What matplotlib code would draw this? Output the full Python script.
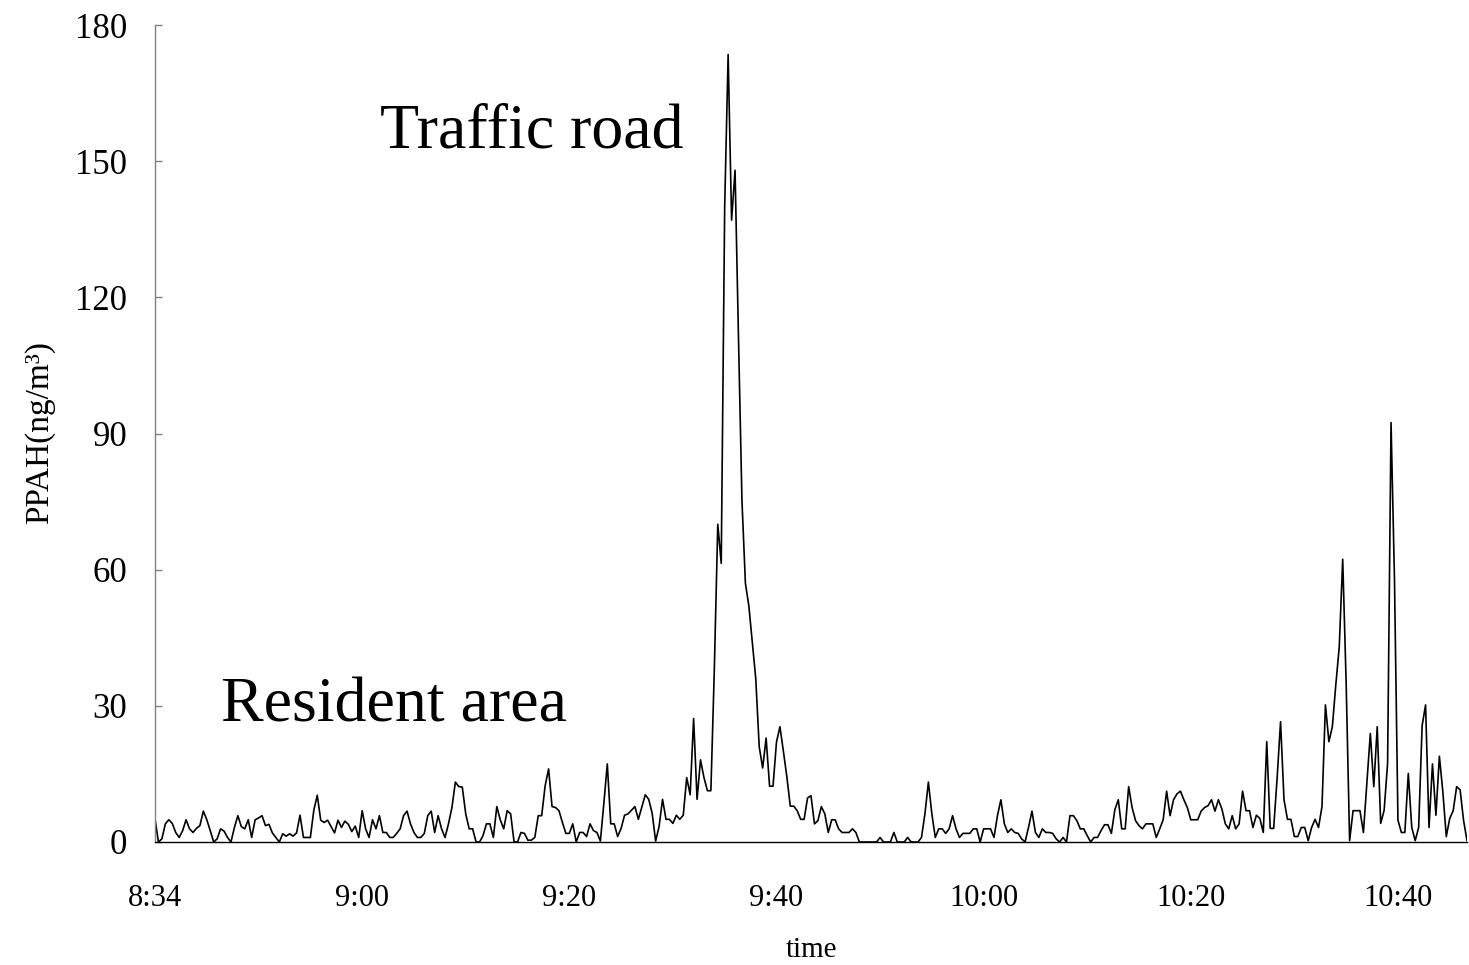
import numpy as np
import matplotlib.pyplot as plt

plt.rcParams["font.family"] = ["Liberation Serif", "DejaVu Serif"]

# PPAH readings, one value per sample, 8:34 -> ~10:46
ppah = [
    5.1, 0, 0.7, 4.0, 4.9, 4.1, 2.1, 1.0, 2.5, 4.9,
    2.9, 2.1, 3.0, 3.6, 6.8, 4.9, 2.5, 0, 0.7, 2.9,
    2.4, 1.0, 0, 3.2, 5.8, 3.4, 2.9, 4.9, 1.0, 4.9,
    5.3, 5.8, 3.6, 3.9, 2.0, 1.0, 0, 1.8, 1.3, 1.8,
    1.3, 2.0, 5.9, 1.0, 1.0, 1.0, 7.0, 10.3, 4.8, 4.3,
    4.8, 3.4, 2.0, 4.8, 3.2, 4.6, 3.9, 2.3, 3.5, 1.0,
    6.9, 2.9, 1.0, 4.9, 2.9, 5.8, 2.1, 2.1, 1.0, 1.0,
    1.9, 2.9, 5.8, 6.8, 4.0, 2.1, 1.0, 1.0, 1.9, 5.8,
    6.8, 2.1, 5.8, 2.9, 1.0, 4.0, 7.6, 13.2, 12.2, 12.1,
    6.2, 2.9, 2.9, 0, 0, 1.4, 4.0, 4.0, 1.0, 7.8,
    4.9, 2.9, 6.9, 6.2, 0, 0, 2.1, 1.9, 0.4, 0.4,
    1.0, 5.8, 5.8, 12.4, 16.1, 7.8, 7.6, 6.9, 4.3, 1.9,
    1.9, 4.0, 0, 2.1, 2.1, 1.2, 4.0, 2.5, 2.1, 0.2,
    8.5, 17.2, 4.0, 4.0, 1.2, 3.0, 5.9, 6.2, 7.0, 7.8,
    5.0, 7.7, 10.4, 9.4, 6.3, 0.2, 3.4, 9.4, 5.0, 5.0,
    4.1, 5.9, 5.0, 5.9, 14.2, 10.4, 27.2, 9.4, 18.1, 14.2,
    11.3, 11.3, 38, 70, 61.4, 140, 173.5, 137, 148, 111,
    75.3, 57, 52, 44, 36, 21, 16.3, 22.9, 12.3, 12.3,
    22, 25.4, 20, 14.4, 7.9, 7.9, 6.9, 5.0, 5.0, 9.7,
    10.2, 4.0, 4.7, 7.8, 6.2, 2.1, 4.9, 4.9, 2.9, 2.1,
    2.1, 2.1, 2.9, 2.1, 0, 0, 0, 0, 0, 0,
    1.0, 0, 0, 0, 2.1, 0, 0, 0, 1.0, 0,
    0, 0, 1.0, 6.2, 13.2, 6.2, 1.0, 2.9, 2.9, 1.9,
    2.9, 5.8, 2.9, 1.0, 1.9, 1.9, 1.9, 2.9, 2.9, 0,
    2.9, 2.9, 2.9, 1.0, 5.8, 9.3, 4.0, 2.1, 2.9, 2.1,
    1.9, 0.7, 0, 3.2, 6.8, 2.1, 1.0, 2.9, 2.1, 2.1,
    1.9, 0.7, 0, 1.0, 0, 5.8, 5.8, 4.7, 2.9, 2.9,
    1.4, 0, 1.0, 1.0, 2.5, 3.8, 3.8, 1.9, 7.1, 9.3,
    2.9, 2.9, 12.2, 7.6, 4.7, 3.6, 2.9, 4.0, 4.0, 4.0,
    1.0, 2.9, 4.9, 11.2, 5.8, 9.3, 10.6, 11.2, 9.3, 7.6,
    4.9, 4.9, 4.9, 6.8, 7.6, 8.0, 9.3, 6.8, 9.3, 7.3,
    4.0, 2.9, 5.8, 2.9, 4.0, 11.2, 6.9, 6.9, 3.2, 5.9,
    5.2, 2.1, 22.1, 3.0, 3.0, 14.0, 26.5, 9.3, 5.0, 5.0,
    1.2, 1.2, 3.2, 3.2, 0.3, 3.2, 5.0, 3.2, 7.8, 30.2,
    22.1, 25.4, 34.6, 43.0, 62.3, 35.0, 0.3, 6.9, 6.9, 6.9,
    2.1, 13.0, 23.9, 12.2, 25.4, 4.1, 7.0, 17.3, 92.4, 57.7,
    4.8, 2.1, 2.1, 15.1, 3.2, 0.3, 3.2, 25.6, 30.2, 3.2,
    17.2, 5.9, 18.9, 11.1, 1.2, 5.2, 6.9, 12.2, 11.5, 4.8,
    0.3,
]
time_labels = ["8:34", "9:00", "9:20", "9:40", "10:00", "10:20", "10:40"]
label_step = 60  # one label every 60 samples
y_ticks = [0, 30, 60, 90, 120, 150, 180]

W, H = 1469, 965
fig = plt.figure(figsize=(W / 100, H / 100), dpi=100)
ax = fig.add_axes([155 / W, 1 - 842 / H, (1467 - 155) / W, (842 - 25) / H])

x = np.arange(len(ppah))
ax.plot(x, ppah, color="black", lw=1.2)

ax.set_xlim(0, len(ppah) - 1)
ax.set_ylim(0, 180)
ax.set_yticks(y_ticks)
ax.set_xticks(np.arange(len(time_labels)) * label_step)
ax.set_xticklabels(time_labels)

for s in ["top", "right"]:
    ax.spines[s].set_visible(False)
ax.spines["left"].set_color("#808080")
ax.spines["left"].set_linewidth(1.0)
ax.spines["bottom"].set_color("black")
ax.spines["bottom"].set_linewidth(1.0)

ax.tick_params(axis="y", direction="in", length=5, width=1, color="#808080",
               labelsize=25, pad=20)
ax.tick_params(axis="x", length=0, labelsize=22, pad=30)

fig.text(811 / W, 1 - 950 / H, "time", ha="center", va="center", fontsize=21)
fig.text(40 / W, 1 - 433 / H, "PPAH(ng/m³)", ha="center", va="center",
         rotation=90, fontsize=24)

fig.text(380 / W, 1 - 147 / H, "Traffic road", ha="left", va="baseline", fontsize=46)
fig.text(221 / W, 1 - 722 / H, "Resident area", ha="left", va="baseline", fontsize=46)

fig.savefig("out.png", dpi=100)
